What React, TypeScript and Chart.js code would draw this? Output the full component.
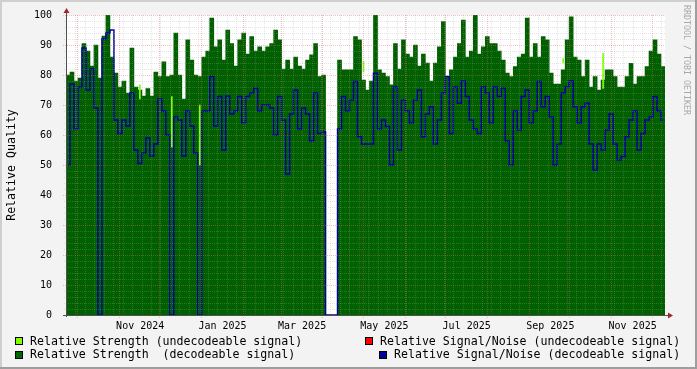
import React, { useEffect, useRef } from "react";
import { Chart, registerables } from "chart.js";

Chart.register(...registerables);

// ---- time window ----
const START_DATE = "2024-09-23";
const WINDOW_DAYS = 444;

// ---- data (one sample every ~3 days, left to right) ----
const strengthDecodeable: (number | null)[] = [
  80, 81, 78, 79, 90.5, 88, 83, 90, 79, 93, 100, 86, 80.6, 76, 78, 74, 89, 76, 75, 73, 75.5, 73, 81, 79.5, 84.4,
  79.5, 80, 94, 80, 72, 91.7, 85, 80, 79.5, 86, 88, 99, 89.4, 91.7, 85, 95, 90.5, 83, 91.7, 94, 87, 92.8, 88, 89.4, 88,
  89.4, 90.5, 95, 91.7, 82, 85, 82, 86, 83, 82, 85, 86.7, 90.5, 79.5, 80, null, null, null, 85, 81.7, 81.7, 81.7, 92.8, 91.7, 78.3,
  75, 78, 100, 81.7, 80.6, 79.5, 76.7, 90.5, 82, 91.7, 87, 86, 90, 83, 87, 84, 78, 84, 89.4, 97.8, 79.5, 81.7, 86, 90.5, 98.3,
  86, 88, 100, 87, 89.4, 92.8, 90.5, 90.5, 88, 85, 80.6, 79.5, 82.8, 86, 87, 99, 86, 90.5, 86, 92.8, 91.7, 80.6, 77, 77, 81.7,
  91.7, 99.4, 86, 85, 79.5, 85, 76, 79.5, 75, 78.3, 81.7, 81.7, 79.5, 76, 76, 79.5, 83.9, 77, 79.5, 79.5, 82.8, 88, 91.7, 87, 82.8,
];

const snrDecodeable: number[] = [
  50, 77, 62, 76, 89, 75, 82, 69, 0, 92, 94, 95, 65, 60.5, 65, 63, 74, 55, 50.5, 54, 59, 53, 57, 72, 68,
  60, 0, 66, 65, 53, 68, 63, 54, 0, 68, 68, 79.5, 63, 72.8, 55, 73, 67, 68, 72.8, 64, 72.8, 74, 75.6, 68, 70,
  70, 69, 60, 72.8, 65, 47, 67, 75, 62, 69, 67, 58, 74, 60.5, 61, 0, 0, 0, 62, 72.8, 68, 71.7, 77.8, 59.4, 57,
  57, 57, 80.6, 62, 65, 62.8, 50, 76, 55, 71.7, 68, 64, 71.7, 75, 59.4, 67, 69.4, 57, 65, 74, 79.5, 60.5, 76, 70.6, 78,
  72.8, 65, 62, 60.5, 76, 74, 64, 76, 72.8, 75.6, 58, 50, 68, 61.7, 72.8, 75, 64, 68, 77.8, 69.4, 72.8, 66, 50, 57, 74,
  76, 78, 69.4, 64, 69.4, 70.6, 57, 48.3, 57, 55, 61.7, 67, 57, 51.7, 52.8, 59.4, 65, 68, 55, 60.5, 65, 66, 72.8, 68, 65,
];

// undecodeable strength: only a few short spikes are visible (sample index, low, high)
const undecodeableIdx = [18, 26, 33, 74, 124, 134];
const undecodeableLow = [72, 56, 50, 81, 84, 75.5];
const undecodeableHigh = [76.7, 72.8, 70, 84.5, 85.5, 87.2];

const xTickLabels = ["Nov 2024", "Jan 2025", "Mar 2025", "May 2025", "Jul 2025", "Sep 2025", "Nov 2025"];
const xTickDates = ["2024-11-17", "2025-01-17", "2025-03-17", "2025-05-17", "2025-07-17", "2025-09-17", "2025-11-17"];

const Y_MIN = 0;
const Y_MAX = 100;
const Y_STEP = 10;
const Y_MINOR = 2;

const COLORS = {
  back: "#F3F3F3",
  canvas: "#FFFFFF",
  shadeA: "#CFCFCF",
  shadeB: "#9E9E9E",
  strengthUndec: "#80FF00",
  strengthDec: "#006000",
  snrUndec: "#FF0000",
  snrDec: "#00009C",
  grid: "rgba(160,160,160,0.28)",
  mgrid: "rgba(225,100,100,0.42)",
  axis: "#505050",
  arrow: "#A02828",
  font: "#000000",
};

const FONT = "'DejaVu Sans Mono', monospace";

const DAY_MS = 86400000;
const startMs = Date.parse(START_DATE + "T00:00:00Z");
const dayOf = (s: string) => (Date.parse(s + "T00:00:00Z") - startMs) / DAY_MS;
const sampleStep = WINDOW_DAYS / strengthDecodeable.length;
const sampleDay = (i: number) => (i + 0.5) * sampleStep;

function monthStarts(): number[] {
  const out: number[] = [];
  const d = new Date(startMs);
  let y = d.getUTCFullYear();
  let m = d.getUTCMonth() + 1;
  for (;;) {
    if (m > 11) { m = 0; y++; }
    const day = (Date.UTC(y, m, 1) - startMs) / DAY_MS;
    if (day > WINDOW_DAYS) break;
    out.push(day);
    m++;
  }
  return out;
}

const rrdPlugin = {
  id: "rrdFrame",
  beforeDraw(chart: any) {
    const { ctx, width, height, chartArea } = chart;
    ctx.save();
    ctx.fillStyle = COLORS.back;
    ctx.fillRect(0, 0, width, height);
    ctx.fillStyle = COLORS.shadeA;
    ctx.fillRect(0, 0, width, 2);
    ctx.fillRect(0, 0, 2, height);
    ctx.fillStyle = COLORS.shadeB;
    ctx.fillRect(0, height - 2, width, 2);
    ctx.fillRect(width - 2, 0, 2, height);
    ctx.fillStyle = COLORS.canvas;
    ctx.fillRect(chartArea.left, chartArea.top, chartArea.right - chartArea.left, chartArea.bottom - chartArea.top);
    ctx.restore();
  },
  afterDatasetsDraw(chart: any) {
    const { ctx, chartArea, scales } = chart;
    const xs = scales.x;
    const ys = scales.y;
    const L = chartArea.left, R = chartArea.right, T = chartArea.top, B = chartArea.bottom;
    ctx.save();
    ctx.lineWidth = 1;
    ctx.setLineDash([1, 1]);
    const months = monthStarts();
    // minor vertical (weekly)
    ctx.strokeStyle = COLORS.grid;
    ctx.beginPath();
    for (let d = 0; d <= WINDOW_DAYS; d += 7) {
      if (months.some((m) => Math.abs(m - d) < 1)) continue;
      const x = Math.round(xs.getPixelForValue(d)) + 0.5;
      if (x <= L + 1 || x >= R) continue;
      ctx.moveTo(x, T);
      ctx.lineTo(x, B + 2);
    }
    // minor horizontal
    for (let v = Y_MIN + Y_MINOR; v < Y_MAX; v += Y_MINOR) {
      if (v % Y_STEP === 0) continue;
      const y = Math.round(ys.getPixelForValue(v)) + 0.5;
      ctx.moveTo(L - 2, y);
      ctx.lineTo(R, y);
    }
    ctx.stroke();
    // major
    ctx.strokeStyle = COLORS.mgrid;
    ctx.beginPath();
    for (const d of months) {
      const x = Math.round(xs.getPixelForValue(d)) + 0.5;
      ctx.moveTo(x, T);
      ctx.lineTo(x, B + 3);
    }
    for (let v = Y_MIN + Y_STEP; v <= Y_MAX; v += Y_STEP) {
      const y = Math.round(ys.getPixelForValue(v)) + 0.5;
      ctx.moveTo(L - 3, y);
      ctx.lineTo(R, y);
    }
    ctx.stroke();
    ctx.setLineDash([]);
    // axes
    ctx.strokeStyle = COLORS.axis;
    ctx.beginPath();
    ctx.moveTo(L + 0.5, B + 2);
    ctx.lineTo(L + 0.5, T - 3);
    ctx.moveTo(L - 3, B + 0.5);
    ctx.lineTo(R + 4, B + 0.5);
    ctx.stroke();
    // arrows
    ctx.fillStyle = COLORS.arrow;
    ctx.beginPath();
    ctx.moveTo(L - 2.5, T - 2);
    ctx.lineTo(L + 3.5, T - 2);
    ctx.lineTo(L + 0.5, T - 7);
    ctx.closePath();
    ctx.fill();
    ctx.beginPath();
    ctx.moveTo(R + 3, B - 2.5);
    ctx.lineTo(R + 3, B + 3.5);
    ctx.lineTo(R + 8, B + 0.5);
    ctx.closePath();
    ctx.fill();
    ctx.restore();
  },
};

export default function App() {
  const canvasRef = useRef<HTMLCanvasElement | null>(null);

  useEffect(() => {
    document.body.style.margin = "0";
    const canvas = canvasRef.current;
    if (!canvas) return;

    const green = strengthDecodeable.map((v, i) => ({ x: sampleDay(i), y: v }));
    const blue = snrDecodeable.map((v, i) => ({ x: sampleDay(i), y: v }));
    const lime = undecodeableIdx.map((idx, k) => ({ x: sampleDay(idx), y: [undecodeableLow[k], undecodeableHigh[k]] }));
    const tickDays = xTickDates.map(dayOf);

    const chart = new Chart(canvas, {
      type: "bar",
      data: {
        datasets: [
          {
            type: "bar",
            label: "Relative Strength (decodeable signal)",
            data: green as any,
            backgroundColor: COLORS.strengthDec,
            borderWidth: 0,
            barPercentage: 1,
            categoryPercentage: 1,
            grouped: false,
            order: 3,
          } as any,
          {
            type: "bar",
            label: "Relative Strength (undecodeable signal)",
            data: lime as any,
            backgroundColor: COLORS.strengthUndec,
            borderWidth: 0,
            barThickness: 1,
            grouped: false,
            order: 2,
          } as any,
          {
            type: "line",
            label: "Relative Signal/Noise (decodeable signal)",
            data: blue as any,
            borderColor: COLORS.snrDec,
            borderWidth: 1.5,
            stepped: "middle",
            pointRadius: 0,
            fill: false,
            order: 1,
          } as any,
        ],
      },
      options: {
        animation: false,
        responsive: false,
        maintainAspectRatio: false,
        devicePixelRatio: 1,
        layout: { padding: { top: 15, right: 32, bottom: 0, left: 0 } },
        plugins: { legend: { display: false }, tooltip: { enabled: false }, title: { display: false } },
        scales: {
          x: {
            type: "linear",
            offset: false,
            min: 0,
            max: WINDOW_DAYS,
            grid: { display: false, offset: false },
            border: { display: false },
            ticks: {
              autoSkip: false,
              maxRotation: 0,
              minRotation: 0,
              padding: -3,
              color: COLORS.font,
              font: { family: FONT, size: 10 },
              callback: (_v: any, i: number) => xTickLabels[i],
            },
            afterBuildTicks: (s: any) => {
              s.ticks = tickDays.map((v) => ({ value: v }));
            },
            afterFit: (s: any) => {
              s.height = 54;
            },
          },
          y: {
            type: "linear",
            min: Y_MIN,
            max: Y_MAX,
            grid: { display: false },
            border: { display: false },
            ticks: {
              stepSize: Y_STEP,
              padding: 6,
              color: COLORS.font,
              font: { family: FONT, size: 10 },
            },
            title: {
              display: true,
              text: "Relative Quality",
              color: COLORS.font,
              font: { family: FONT, size: 11.6 },
              padding: { top: 5, bottom: 0 },
            },
            afterFit: (s: any) => {
              s.width = 66;
            },
          },
        },
      },
      plugins: [rrdPlugin],
    });
    return () => chart.destroy();
  }, []);

  const legendText: React.CSSProperties = {
    position: "absolute",
    fontFamily: FONT,
    fontSize: "11.6px",
    lineHeight: "14px",
    color: COLORS.font,
    whiteSpace: "pre",
  };
  const box = (c: string, left: number, top: number): React.CSSProperties => ({
    position: "absolute",
    left,
    top,
    width: 8,
    height: 8,
    boxSizing: "border-box",
    border: "1px solid #000",
    background: c,
  });

  return (
    <div style={{ position: "relative", width: 697, height: 369, overflow: "hidden" }}>
      <canvas ref={canvasRef} width={697} height={369} style={{ position: "absolute", left: 0, top: 0, width: 697, height: 369 }} />
      <div style={box(COLORS.strengthUndec, 15, 337)} />
      <div style={{ ...legendText, left: 30, top: 334 }}>Relative Strength (undecodeable signal)</div>
      <div style={box("#006600", 15, 351)} />
      <div style={{ ...legendText, left: 30, top: 347 }}>Relative Strength  (decodeable signal)</div>
      <div style={box(COLORS.snrUndec, 365, 337)} />
      <div style={{ ...legendText, left: 380, top: 334 }}>Relative Signal/Noise (undecodeable signal)</div>
      <div style={box(COLORS.snrDec, 379, 351)} />
      <div style={{ ...legendText, left: 394, top: 347 }}>Relative Signal/Noise (decodeable signal)</div>
      <div
        style={{
          position: "absolute",
          left: 682,
          top: 5,
          writingMode: "vertical-rl",
          fontFamily: FONT,
          fontSize: "8.3px",
          lineHeight: "10px",
          color: "#A8A8A8",
          whiteSpace: "pre",
        }}
      >
        RRDTOOL / TOBI OETIKER
      </div>
    </div>
  );
}
